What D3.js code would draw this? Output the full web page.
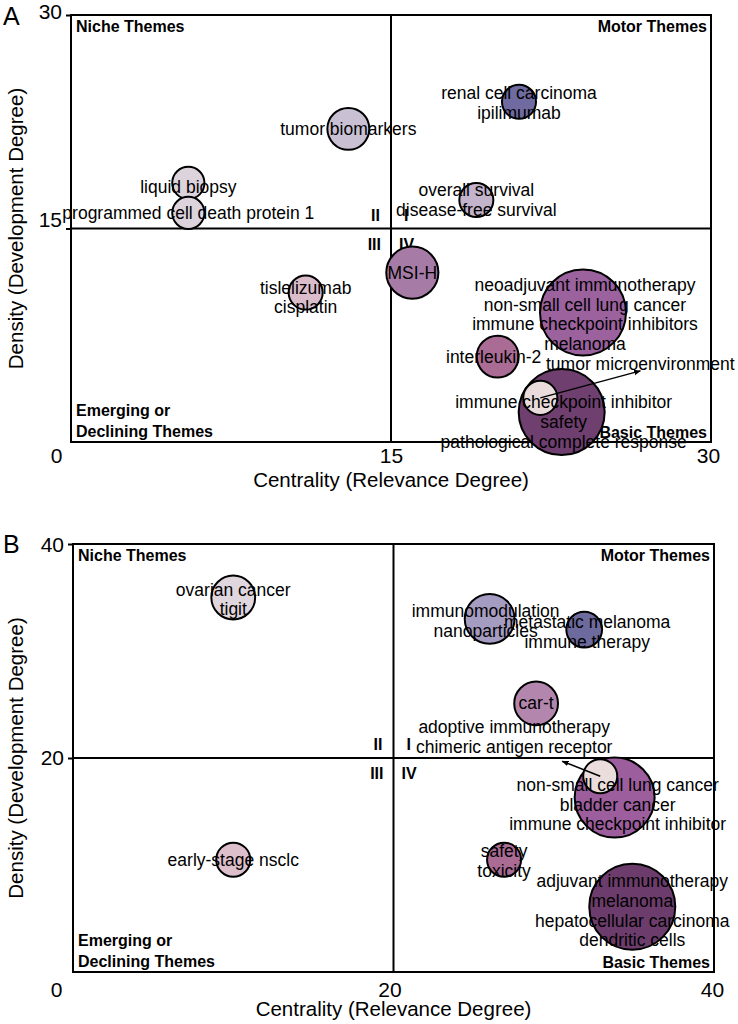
<!DOCTYPE html>
<html><head><meta charset="utf-8">
<script src="https://cdn.jsdelivr.net/npm/d3@7"></script>
<style>
body{margin:0;background:#fff}
svg text{font-family:"Liberation Sans",Arial,Helvetica,sans-serif;fill:#000}
</style>
</head><body>
<svg id="chart" width="738" height="1024"></svg>
<script>
// ---------------- Panel A data ----------------
const aThemes = [
  ["tumor biomarkers"],
  ["liquid biopsy"],
  ["programmed cell death protein 1"],
  ["renal cell carcinoma","ipilimumab"],
  ["overall survival","disease-free survival"],
  ["tislelizumab","cisplatin"],
  ["MSI-H"],
  ["neoadjuvant immunotherapy","non-small cell lung cancer","immune checkpoint inhibitors","melanoma"],
  ["interleukin-2"],
  ["immune checkpoint inhibitor","safety","pathological complete response"],
  ["tumor microenvironment"]
];
const aCentrality = [13.0, 5.5, 5.5, 21.0, 19.0, 11.0, 16.0, 24.0, 20.0, 23.0, 22.0];
const aDensity    = [22.0, 18.2, 16.1, 23.9, 17.0, 10.5, 11.9, 9.1, 6.0, 2.1, 3.1];
const aFrequency  = [44, 26, 26, 29, 29, 29, 68, 185, 44, 185, 29];
const aColors = ["#c9c1d3","#ddd3dc","#ddd3dc","#6f6ba0","#c3b4cb","#dbbcca","#a67ca6","#9b629e","#aa6b95","#6e3f6f","#eadcdc"];
const aXTicks = [0, 15, 30];
const aYTicks = [15, 30];

// ---------------- Panel B data ----------------
const bThemes = [
  ["ovarian cancer","tigit"],
  ["immunomodulation","nanoparticles"],
  ["metastatic melanoma","immune therapy"],
  ["car-t"],
  ["adoptive immunotherapy","chimeric antigen receptor"],
  ["non-small cell lung cancer","bladder cancer","immune checkpoint inhibitor"],
  ["safety","toxicity"],
  ["adjuvant immunotherapy","melanoma","hepatocellular carcinoma","dendritic cells"],
  ["early-stage nsclc"]
];
const bCentrality = [10.0, 26.0, 31.9, 28.9, 32.9, 33.8, 26.9, 34.9, 10.0];
const bDensity    = [35.0, 33.0, 32.0, 25.1, 18.3, 16.3, 10.5, 6.1, 10.5];
const bFrequency  = [48, 62, 32, 48, 29, 160, 29, 185, 29];
const bColors = ["#e0d6dd","#a59cc2","#6d6a9e","#b386ad","#eadddc","#9c5e9d","#aa6b95","#6c3d6c","#ddbfcc"];
const bXTicks = [0, 20, 40];
const bYTicks = [20, 40];

// ---------------- layout (px nudges, not data) ----------------
const aLabelNudge = [[0,0],[0,4],[0,0],[0,1],[0,0],[0,5],[0,0],[2,2],[-4,0],[2,10],[100,-34]];
const bLabelNudge = [[0,2],[-4,2],[3,2],[0,0],[-86,-39],[3,7],[0,1],[0,4],[0,0]];
const aArrow = {index: 10, end: [0, 7]};   // end relative to label centre
const bArrow = {index: 4, end: [48, 24]};

const svg = d3.select("#chart");
const rScale = d3.scaleSqrt().domain([0, 185]).range([0, 43]);

svg.append("defs").append("marker")
  .attr("id","arrowhead").attr("viewBox","0 0 10 10")
  .attr("refX",9).attr("refY",5).attr("markerWidth",7).attr("markerHeight",7)
  .attr("markerUnits","userSpaceOnUse").attr("orient","auto")
  .append("path").attr("d","M0,1 L10,5 L0,9 Z").attr("fill","#000");

function drawPanel(cfg){
  const g = svg.append("g");
  const x = d3.scaleLinear().domain([0, cfg.max]).range([cfg.left, cfg.right]);
  const y = d3.scaleLinear().domain([0, cfg.max]).range([cfg.bottom, cfg.top]);
  const mid = cfg.max / 2;
  const mx = x(mid), my = y(mid);

  // frame & quadrant lines
  g.append("rect").attr("x", x(0)).attr("y", y(cfg.max))
    .attr("width", x(cfg.max)-x(0)).attr("height", y(0)-y(cfg.max))
    .attr("fill","none").attr("stroke","#000").attr("stroke-width",2);
  g.append("line").attr("x1", x(0)).attr("x2", x(cfg.max)).attr("y1", my).attr("y2", my)
    .attr("stroke","#000").attr("stroke-width",2);
  g.append("line").attr("x1", mx).attr("x2", mx).attr("y1", y(0)).attr("y2", y(cfg.max))
    .attr("stroke","#000").attr("stroke-width",2);

  // axes
  const ya = g.append("g").attr("transform",`translate(${x(0)},0)`)
    .call(d3.axisLeft(y).tickValues(cfg.yTicks).tickSize(5).tickPadding(4).tickFormat(d3.format("d")));
  ya.select(".domain").remove();
  ya.selectAll(".tick line").attr("stroke-width",2);
  ya.selectAll(".tick text").attr("font-size",21).attr("font-family","Liberation Sans, Arial, sans-serif")
    .attr("dy", d => (cfg.yNudge[d] || 0) + 7);

  const xa = g.append("g").attr("transform",`translate(0,${y(0)})`)
    .call(d3.axisBottom(x).tickValues(cfg.xTicks).tickSize(0).tickPadding(cfg.xPad).tickFormat(d3.format("d")));
  xa.select(".domain").remove();
  xa.selectAll(".tick text").attr("font-size",21).attr("font-family","Liberation Sans, Arial, sans-serif")
    .attr("dx", d => (cfg.xNudge[d] || 0));

  // axis titles
  g.append("text").attr("x", mx).attr("y", cfg.xTitleY).attr("text-anchor","middle")
    .attr("font-size",20.5).text("Centrality (Relevance Degree)");
  g.append("text").attr("transform",`translate(23,${my}) rotate(-90)`).attr("text-anchor","middle")
    .attr("font-size",20.5).text("Density (Development Degree)");

  // panel letter
  g.append("text").attr("x",3).attr("y",cfg.letterY).attr("font-size",25).text(cfg.letter);

  // quadrant names
  const qb = {"font-weight":"bold","font-size":16};
  function qt(tx, ty, anchor, s){
    g.append("text").attr("x",tx).attr("y",ty).attr("text-anchor",anchor)
      .attr("font-weight","bold").attr("font-size",16).text(s);
  }
  qt(x(0)+5, y(cfg.max)+17, "start", "Niche Themes");
  qt(x(cfg.max)-4, y(cfg.max)+17, "end", "Motor Themes");
  qt(x(0)+5, y(0)-26, "start", "Emerging or");
  qt(x(0)+5, y(0)-5, "start", "Declining Themes");
  qt(x(cfg.max)-4, y(0)-4, "end", "Basic Themes");
  qt(mx-11, my-8, "end", "II");
  qt(mx+13, my-8, "start", "I");
  qt(mx-10, my+21, "end", "III");
  qt(mx+8, my+21, "start", "IV");

  // bubbles
  const nodes = cfg.themes.map((t,i)=>({
    lines:t, cx:cfg.cent[i], cy:cfg.dens[i], f:cfg.freq[i], color:cfg.colors[i], nudge:cfg.nudge[i], i
  }));
  const order = nodes.slice().sort((a,b)=>b.f-a.f);
  g.append("g").selectAll("circle").data(order).join("circle")
    .attr("cx", d=>x(d.cx)).attr("cy", d=>y(d.cy)).attr("r", d=>rScale(d.f))
    .attr("fill", d=>d.color).attr("stroke","#000").attr("stroke-width",2);

  // arrow
  const an = nodes[cfg.arrow.index];
  const lx = x(an.cx)+an.nudge[0], ly = y(an.cy)+an.nudge[1];
  g.append("line").attr("x1", x(an.cx)).attr("y1", y(an.cy))
    .attr("x2", lx+cfg.arrow.end[0]).attr("y2", ly+cfg.arrow.end[1])
    .attr("stroke","#000").attr("stroke-width",1.5).attr("marker-end","url(#arrowhead)");

  // labels
  const lh = 19.8;
  const lg = g.append("g");
  nodes.forEach(d=>{
    const cxp = x(d.cx)+d.nudge[0], cyp = y(d.cy)+d.nudge[1];
    const n = d.lines.length;
    const t = lg.append("text").attr("text-anchor","middle").attr("font-size",17.5);
    d.lines.forEach((s,k)=>{
      t.append("tspan").attr("x",cxp).attr("y", cyp + (k-(n-1)/2)*lh + 6).text(s);
    });
  });
}

drawPanel({letter:"A", letterY:25, themes:aThemes, cent:aCentrality, dens:aDensity, freq:aFrequency,
  colors:aColors, nudge:aLabelNudge, arrow:aArrow, xTicks:aXTicks, yTicks:aYTicks, max:30,
  left:71, right:711, top:15, bottom:442, xPad:6, xTitleY:487,
  yNudge:{15:-9, 30:-3.5}, xNudge:{0:-15, 30:-3}});
drawPanel({letter:"B", letterY:553, themes:bThemes, cent:bCentrality, dens:bDensity, freq:bFrequency,
  colors:bColors, nudge:bLabelNudge, arrow:bArrow, xTicks:bXTicks, yTicks:bYTicks, max:40,
  left:73, right:714, top:544, bottom:972, xPad:10, xTitleY:1016,
  yNudge:{20:-1, 40:0}, xNudge:{0:-17, 20:-4, 40:-2}});
</script>
</body></html>
